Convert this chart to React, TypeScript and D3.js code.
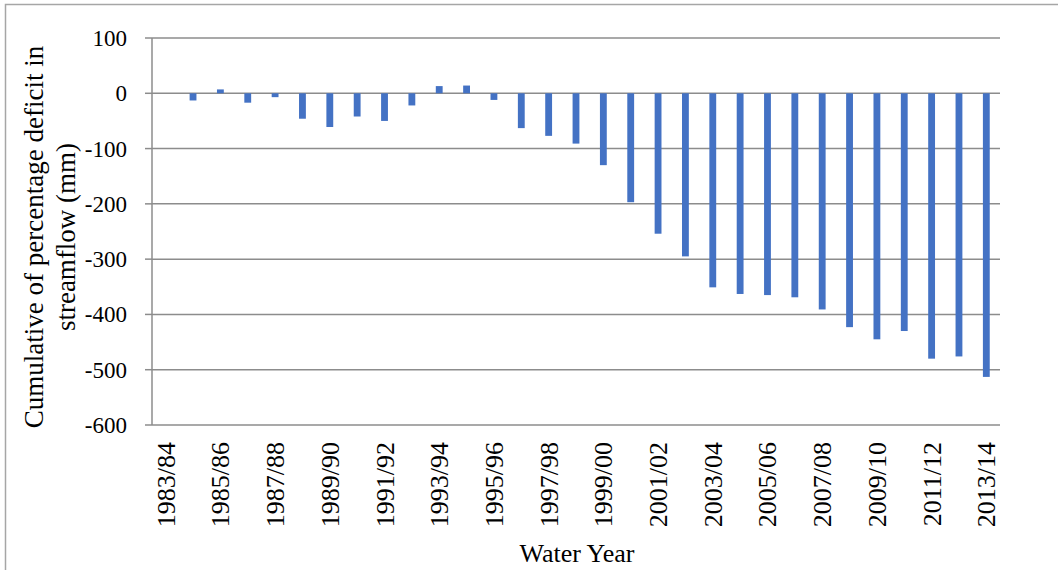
import { useEffect, useRef } from 'react'
import * as d3 from 'd3'

const waterYears = [
  '1983/84', '1984/85', '1985/86', '1986/87', '1987/88', '1988/89', '1989/90', '1990/91',
  '1991/92', '1992/93', '1993/94', '1994/95', '1995/96', '1996/97', '1997/98', '1998/99',
  '1999/00', '2000/01', '2001/02', '2002/03', '2003/04', '2004/05', '2005/06', '2006/07',
  '2007/08', '2008/09', '2009/10', '2010/11', '2011/12', '2012/13', '2013/14',
]

const cumulativeDeficit = [
  0, -13, 7, -17, -7, -46, -61, -42,
  -50, -22, 13, 14, -12, -63, -77, -91,
  -130, -197, -254, -295, -351, -363, -365, -369,
  -391, -423, -445, -430, -480, -476, -513,
]

const yTicks = [100, 0, -100, -200, -300, -400, -500, -600]

// only every other water year gets a label on the axis
const labelledYears = waterYears.filter((_, i) => i % 2 === 0)

const FONT = '"Liberation Serif", "Times New Roman", serif'

export default function App() {
  const svgRef = useRef<SVGSVGElement>(null)

  useEffect(() => {
    const svg = d3.select(svgRef.current)
    svg.selectAll('*').remove()

    const W = 1058
    const H = 570
    const plot = { left: 152, right: 1000, top: 38, bottom: 425 }

    svg.attr('width', W).attr('height', H)

    // chart frame (only left and top edges fall inside the picture)
    svg.append('rect')
      .attr('x', 5.5)
      .attr('y', 4.5)
      .attr('width', 1100)
      .attr('height', 700)
      .attr('fill', 'white')
      .attr('stroke', '#a6a6a6')
      .attr('stroke-width', 1.5)

    const x = d3.scaleBand<string>()
      .domain(waterYears)
      .range([plot.left, plot.right])
      .paddingInner(0.75)
      .paddingOuter(0.375)

    const y = d3.scaleLinear()
      .domain([-600, 100])
      .range([plot.bottom, plot.top])

    // Gridlines
    svg.append('g')
      .selectAll('line')
      .data(yTicks)
      .enter()
      .append('line')
      .attr('x1', plot.left)
      .attr('x2', plot.right)
      .attr('y1', d => y(d))
      .attr('y2', d => y(d))
      .attr('stroke', '#8c8c8c')
      .attr('stroke-width', 1.5)

    // Bars
    svg.append('g')
      .selectAll('rect')
      .data(cumulativeDeficit)
      .enter()
      .append('rect')
      .attr('x', (_, i) => x(waterYears[i]) || 0)
      .attr('width', x.bandwidth())
      .attr('y', d => y(Math.max(0, d)))
      .attr('height', d => Math.abs(y(d) - y(0)))
      .attr('fill', '#4472c4')

    // Y axis line + outward ticks
    const yAxis = svg.append('g')
    yAxis.append('line')
      .attr('x1', plot.left).attr('x2', plot.left)
      .attr('y1', plot.top).attr('y2', plot.bottom)
      .attr('stroke', '#8c8c8c')
      .attr('stroke-width', 1.5)
    yAxis.selectAll('.tick')
      .data(yTicks)
      .enter()
      .append('line')
      .attr('x1', plot.left - 7)
      .attr('x2', plot.left)
      .attr('y1', d => y(d))
      .attr('y2', d => y(d))
      .attr('stroke', '#8c8c8c')
      .attr('stroke-width', 1.5)
    yAxis.selectAll('text')
      .data(yTicks)
      .enter()
      .append('text')
      .attr('x', 127)
      .attr('y', d => y(d))
      .attr('dy', '0.35em')
      .attr('text-anchor', 'end')
      .style('font-family', FONT)
      .style('font-size', '23px')
      .attr('fill', '#000')
      .text(d => d)

    // X labels, rotated
    svg.append('g')
      .selectAll('text')
      .data(labelledYears)
      .enter()
      .append('text')
      .attr('transform', d => `translate(${(x(d) || 0) + x.bandwidth() / 2 + 9},442) rotate(-90)`)
      .attr('text-anchor', 'end')
      .style('font-family', FONT)
      .style('font-size', '26px')
      .attr('fill', '#000')
      .text(d => d)

    // X axis title
    svg.append('text')
      .attr('x', 577)
      .attr('y', 562)
      .attr('text-anchor', 'middle')
      .style('font-family', FONT)
      .style('font-size', '26px')
      .attr('fill', '#000')
      .text('Water Year')

    // Y axis title (two lines)
    const yTitle = svg.append('g')
      .attr('transform', 'translate(0,237) rotate(-90)')
    yTitle.append('text')
      .attr('x', 0)
      .attr('y', 43)
      .attr('text-anchor', 'middle')
      .style('font-family', FONT)
      .style('font-size', '27px')
      .attr('fill', '#000')
      .text('Cumulative of percentage deficit in')
    yTitle.append('text')
      .attr('x', 0)
      .attr('y', 75)
      .attr('text-anchor', 'middle')
      .style('font-family', FONT)
      .style('font-size', '27px')
      .attr('fill', '#000')
      .text('streamflow (mm)')
  }, [])

  return (
    <svg ref={svgRef} style={{ position: 'absolute', left: 0, top: 0, background: 'white' }}></svg>
  )
}
